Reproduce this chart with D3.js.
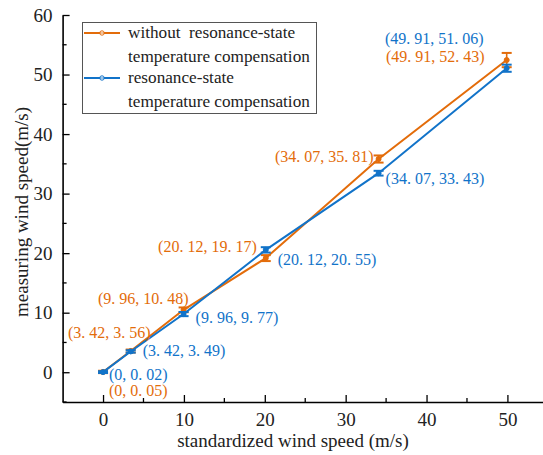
<!DOCTYPE html>
<html>
<head>
<meta charset="utf-8">
<script src="https://cdn.jsdelivr.net/npm/d3@7"></script>
<style>
  body { margin: 0; background: #fff; }
  svg { display: block; }
  svg text { font-family: "Liberation Serif", "Times New Roman", Times, serif; }
</style>
</head>
<body>
<div id="chart"></div>
<script>
// data
const standardSpeed = [0, 3.42, 9.96, 20.12, 34.07, 49.91];
const withoutComp = [0.05, 3.56, 10.48, 19.17, 35.81, 52.43];
const withComp = [0.02, 3.49, 9.77, 20.55, 33.43, 51.06];
const withoutErr = [0.2, 0.25, 0.4, 0.5, 0.6, 1.2];
const withErr = [0.15, 0.2, 0.35, 0.45, 0.4, 0.6];
const xTicks = [0, 10, 20, 30, 40, 50];
const yTicks = [0, 10, 20, 30, 40, 50, 60];

const orange = "#e36c0a",
    blue = "#1173c9";

const width = 543, height = 455;

const svg = d3.select("#chart")
    .append("svg")
    .attr("width", width)
    .attr("height", height);

const x = d3.scaleLinear().domain([-5, 54.4]).range([62.6, 543]);
const y = d3.scaleLinear().domain([-5, 60]).range([402, 15]);

// axes
const xAxis = svg.append("g")
    .attr("transform", `translate(0, ${y(-5)})`)
    .call(d3.axisBottom(x).tickValues(xTicks).tickSize(-7).tickPadding(11).tickSizeOuter(0));
xAxis.append("g").selectAll("line")
    .data([5, 15, 25, 35, 45])
    .join("line")
    .attr("x1", d => x(d)).attr("x2", d => x(d))
    .attr("y1", 0).attr("y2", -4)
    .attr("stroke", "#000").attr("stroke-width", 1.3);

const yAxis = svg.append("g")
    .attr("transform", `translate(${x(-5)}, 0)`)
    .call(d3.axisLeft(y).tickValues(yTicks).tickSize(-7).tickPadding(10).tickSizeOuter(0));
yAxis.append("g").selectAll("line")
    .data([-5, 5, 15, 25, 35, 45, 55])
    .join("line")
    .attr("y1", d => y(d)).attr("y2", d => y(d))
    .attr("x1", 0).attr("x2", 4)
    .attr("stroke", "#000").attr("stroke-width", 1.3);

svg.selectAll(".domain").attr("stroke", "#000").attr("stroke-width", 1.6);
svg.selectAll(".tick line").attr("stroke", "#000").attr("stroke-width", 1.3);
svg.selectAll("g[font-family]").attr("font-family", null);
svg.selectAll(".tick text")
    .attr("font-size", 19)
    .attr("fill", "#222");

svg.append("text")
    .attr("x", 293).attr("y", 447)
    .attr("text-anchor", "middle")
    .attr("font-size", 19)
    .attr("fill", "#222")
    .text("standardized wind speed (m/s)");

svg.append("text")
    .attr("transform", "translate(28, 212) rotate(-90)")
    .attr("text-anchor", "middle")
    .attr("font-size", 19)
    .attr("fill", "#222")
    .text("measuring wind speed(m/s)");

// series
const series = [
    {name: "without", values: withoutComp, err: withoutErr, color: orange},
    {name: "with", values: withComp, err: withErr, color: blue}
];

const line = d3.line()
    .x(d => x(d[0]))
    .y(d => y(d[1]));

series.forEach(s => {
    const pts = standardSpeed.map((v, i) => [v, s.values[i], s.err[i]]);
    const g = svg.append("g");
    g.append("path")
        .datum(pts)
        .attr("fill", "none")
        .attr("stroke", s.color)
        .attr("stroke-width", 2)
        .attr("d", line);

    const eb = g.selectAll(".eb").data(pts).join("g");
    eb.append("line")
        .attr("x1", d => x(d[0])).attr("x2", d => x(d[0]))
        .attr("y1", d => y(d[1] - d[2])).attr("y2", d => y(d[1] + d[2]))
        .attr("stroke", s.color).attr("stroke-width", 1.6);
    [-1, 1].forEach(sign => {
        eb.append("line")
            .attr("x1", d => x(d[0]) - 5).attr("x2", d => x(d[0]) + 5)
            .attr("y1", d => y(d[1] + sign * d[2])).attr("y2", d => y(d[1] + sign * d[2]))
            .attr("stroke", s.color).attr("stroke-width", 2);
    });
    eb.append("circle")
        .attr("cx", d => x(d[0])).attr("cy", d => y(d[1]))
        .attr("r", 2.5)
        .attr("fill", s.color)
        .attr("stroke", s.color);
});

// point annotations: [dx, dy, anchor] relative to the point
const labelLayout = {
    without: [[6, 24, "start"], [20, -13, "end"], [5, -6, "end"], [-9, -6, "end"], [-5, 3, "end"], [-22, 2, "end"]],
    with: [[6, 8, "start"], [12, 5, "start"], [12, 9, "start"], [12, 15, "start"], [7, 11, "start"], [-23, -24, "end"]]
};

const fmtX = v => v === 0 ? "0" : v.toFixed(2);
const spaced = s => s.replace(".", ". ");

series.forEach(s => {
    svg.append("g").selectAll("text")
        .data(standardSpeed.map((v, i) => ({v, val: s.values[i], lay: labelLayout[s.name][i]})))
        .join("text")
        .attr("x", d => x(d.v) + d.lay[0])
        .attr("y", d => y(d.val) + d.lay[1])
        .attr("text-anchor", d => d.lay[2])
        .attr("font-size", 16)
        .attr("fill", s.color)
        .text(d => `(${spaced(fmtX(d.v))}, ${spaced(d.val.toFixed(2))})`);
});

// legend
const legend = svg.append("g");
legend.append("rect")
    .attr("x", 82.5).attr("y", 22.5)
    .attr("width", 234).attr("height", 91)
    .attr("fill", "#fff")
    .attr("stroke", "#555")
    .attr("stroke-width", 1);

const legendItems = [
    {color: orange, lines: ["without  resonance-state", "temperature compensation"]},
    {color: blue, lines: ["resonance-state", "temperature compensation"]}
];

legendItems.forEach((item, i) => {
    const ly = 33 + i * 45;
    legend.append("line")
        .attr("x1", 84).attr("x2", 120)
        .attr("y1", ly).attr("y2", ly)
        .attr("stroke", item.color).attr("stroke-width", 2);
    legend.append("circle")
        .attr("cx", 102).attr("cy", ly).attr("r", 2.2)
        .attr("fill", "#fff").attr("fill-opacity", 0.6)
        .attr("stroke", item.color).attr("stroke-width", 1);
    item.lines.forEach((t, j) => {
        legend.append("text")
            .attr("x", 128).attr("y", ly + 5 + j * 24)
            .attr("font-size", 17.2)
            .attr("fill", "#222")
            .style("white-space", "pre")
            .text(t);
    });
});
</script>
</body>
</html>
